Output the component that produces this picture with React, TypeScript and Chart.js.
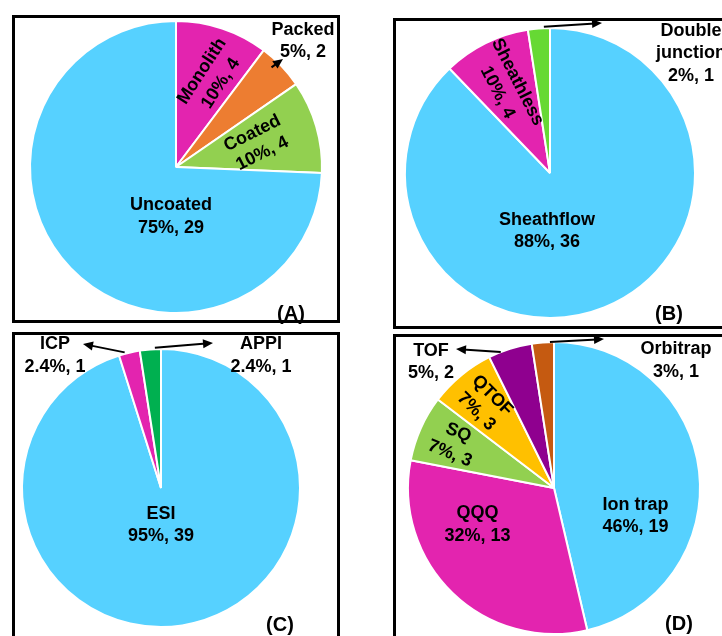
import { useEffect, useRef } from "react";
import { Chart, registerables } from "chart.js";

Chart.register(...registerables);

// (A) column types
const columnNames = ["Monolith", "Packed", "Coated", "Uncoated"];
const columnCounts = [4, 2, 4, 29];
const columnShares = ["10%", "5%", "10%", "75%"];

// (B) CE–MS interfaces
const interfaceNames = ["Sheathflow", "Sheathless", "Double junction"];
const interfaceCounts = [36, 4, 1];
const interfaceShares = ["88%", "10%", "2%"];

// (C) ionisation sources
const sourceNames = ["ESI", "ICP", "APPI"];
const sourceCounts = [39, 1, 1];
const sourceShares = ["95%", "2.4%", "2.4%"];

// (D) mass analysers
const analyzerNames = ["Ion trap", "QQQ", "SQ", "QTOF", "TOF", "Orbitrap"];
const analyzerCounts = [19, 13, 3, 3, 2, 1];
const analyzerShares = ["46%", "32%", "7%", "7%", "5%", "3%"];

const BLUE = "#56D1FF";
const MAGENTA = "#E324AF";
const ORANGE = "#ED7D31";
const LIGHT_GREEN = "#92D050";
const LIME = "#66D934";
const GREEN = "#00B050";
const AMBER = "#FFC000";
const PURPLE = "#8F008F";
const BROWN = "#C55A11";

const FONT = "bold 18px 'Liberation Sans', Arial, Helvetica, sans-serif";
const LINE_HEIGHT = 22.5;

// Label placement for each slice.
//  r / angle : radial fraction and direction (deg clockwise from 12 o'clock; slice middle if omitted)
//  rotate    : text rotation in degrees
//  out       : label centre outside the pie, px from pie centre
//  from      : leader start [radial fraction, angle]; to: arrow tip, px from pie centre
type LabelSpec = {
  r?: number;
  angle?: number;
  rotate?: number;
  out?: [number, number];
  from?: [number, number];
  to?: [number, number];
  wrap?: boolean;
};

const columnLabelSpecs: LabelSpec[] = [
  { r: 0.66, angle: 21.5, rotate: -57 },
  { out: [127, -126], from: [0.945, 43.8], to: [107, -108] },
  { r: 0.58, rotate: -26.6 },
  { r: 0.34, angle: 185.8 },
];

const interfaceLabelSpecs: LabelSpec[] = [
  { r: 0.4, angle: 183 },
  { r: 0.66, rotate: 63 },
  { out: [141, -119.5], from: [1.01, 357.6], to: [52, -150], wrap: true },
];

const sourceLabelSpecs: LabelSpec[] = [
  { r: 0.265, angle: 180 },
  { out: [-106, -132.5], from: [1.01, 345], to: [-78, -144] },
  { out: [100, -132.5], from: [1.01, 357.5], to: [52, -145] },
];

const analyzerLabelSpecs: LabelSpec[] = [
  { r: 0.59, angle: 109 },
  { r: 0.58, angle: 244.6 },
  { r: 0.75, rotate: 22 },
  { r: 0.75, rotate: 45 },
  { out: [-123, -126], from: [1.0, 338.6], to: [-98, -139] },
  { out: [122, -127.5], from: [1.0, 358.4], to: [50, -149] },
];

const toCanvasAngle = (deg: number) => (deg * Math.PI) / 180 - Math.PI / 2;

function drawLines(ctx: CanvasRenderingContext2D, lines: string[], x: number, y: number, rot: number) {
  ctx.save();
  ctx.translate(x, y);
  if (rot) ctx.rotate((rot * Math.PI) / 180);
  lines.forEach((t, i) => ctx.fillText(t, 0, (i - (lines.length - 1) / 2) * LINE_HEIGHT));
  ctx.restore();
}

function drawArrow(ctx: CanvasRenderingContext2D, x0: number, y0: number, x1: number, y1: number) {
  const a = Math.atan2(y1 - y0, x1 - x0);
  const head = 10;
  const half = 4.5;
  const c = Math.cos(a);
  const s = Math.sin(a);
  ctx.beginPath();
  ctx.moveTo(x0, y0);
  ctx.lineTo(x1 - head * 0.7 * c, y1 - head * 0.7 * s);
  ctx.stroke();
  ctx.beginPath();
  ctx.moveTo(x1, y1);
  ctx.lineTo(x1 - head * c + half * s, y1 - head * s - half * c);
  ctx.lineTo(x1 - head * c - half * s, y1 - head * s + half * c);
  ctx.closePath();
  ctx.fill();
}

function makeLabelPlugin(names: string[], counts: number[], shares: string[], specs: LabelSpec[]) {
  return {
    id: "sliceLabels",
    afterDatasetsDraw(chart: any) {
      const ctx: CanvasRenderingContext2D = chart.ctx;
      const meta = chart.getDatasetMeta(0);
      ctx.save();
      ctx.font = FONT;
      ctx.fillStyle = "#000";
      ctx.strokeStyle = "#000";
      ctx.lineWidth = 2;
      ctx.textAlign = "center";
      ctx.textBaseline = "middle";
      meta.data.forEach((arc: any, i: number) => {
        const spec = specs[i];
        if (!spec) return;
        const { x, y, startAngle, endAngle, outerRadius } = arc.getProps(
          ["x", "y", "startAngle", "endAngle", "outerRadius"],
          true
        );
        const nameLines = spec.wrap ? names[i].split(" ") : [names[i]];
        const lines = [...nameLines, `${shares[i]}, ${counts[i]}`];
        if (spec.out) {
          drawLines(ctx, lines, x + spec.out[0], y + spec.out[1], 0);
          if (spec.from && spec.to) {
            const a = toCanvasAngle(spec.from[1]);
            const R = spec.from[0] * outerRadius;
            drawArrow(ctx, x + R * Math.cos(a), y + R * Math.sin(a), x + spec.to[0], y + spec.to[1]);
          }
        } else {
          const a = spec.angle !== undefined ? toCanvasAngle(spec.angle) : (startAngle + endAngle) / 2;
          const R = (spec.r ?? 0.6) * outerRadius;
          drawLines(ctx, lines, x + R * Math.cos(a), y + R * Math.sin(a), spec.rotate ?? 0);
        }
      });
      ctx.restore();
    },
  };
}

type PanelProps = {
  box: [number, number, number, number];
  center: [number, number];
  radius: number;
  tag: string;
  tagAt: [number, number];
  names: string[];
  counts: number[];
  shares: string[];
  colors: string[];
  specs: LabelSpec[];
};

const BORDER = 3;

function PiePanel(p: PanelProps) {
  const ref = useRef<HTMLCanvasElement>(null);
  const [left, top, width, height] = p.box;
  const w = width - 2 * BORDER;
  const h = height - 2 * BORDER;
  const lx = p.center[0] - left - BORDER;
  const ly = p.center[1] - top - BORDER;

  useEffect(() => {
    const canvas = ref.current;
    if (!canvas) return;
    const padding = {
      left: Math.max(0, 2 * lx - w),
      right: Math.max(0, w - 2 * lx),
      top: Math.max(0, 2 * ly - h),
      bottom: Math.max(0, h - 2 * ly),
    };
    const chart = new Chart(canvas, {
      type: "pie",
      data: {
        labels: p.names,
        datasets: [
          {
            data: p.counts,
            backgroundColor: p.colors,
            borderColor: "#ffffff",
            borderWidth: 2,
            radius: p.radius,
          } as any,
        ],
      },
      options: {
        animation: false,
        responsive: false,
        events: [],
        layout: { padding },
        plugins: { legend: { display: false }, tooltip: { enabled: false } },
      } as any,
      plugins: [makeLabelPlugin(p.names, p.counts, p.shares, p.specs)],
    });
    return () => chart.destroy();
  }, []);

  return (
    <>
      <div
        style={{
          position: "absolute",
          left,
          top,
          width,
          height,
          boxSizing: "border-box",
          border: `${BORDER}px solid #000`,
          overflow: "hidden",
          background: "#fff",
        }}
      >
        <canvas ref={ref} width={w} height={h} style={{ position: "absolute", left: 0, top: 0, width: w, height: h }} />
      </div>
      <span
        style={{
          position: "absolute",
          left: p.tagAt[0],
          top: p.tagAt[1],
          transform: "translate(-50%, -50%)",
          font: "bold 20px 'Liberation Sans', Arial, Helvetica, sans-serif",
          color: "#000",
          lineHeight: 1,
          whiteSpace: "nowrap",
        }}
      >
        {p.tag}
      </span>
    </>
  );
}

export default function App() {
  return (
    <div
      style={{
        position: "fixed",
        left: 0,
        top: 0,
        width: 722,
        height: 636,
        overflow: "hidden",
        background: "#fff",
      }}
    >
      <PiePanel
        box={[12, 15, 328, 308]}
        center={[176, 167]}
        radius={146}
        tag="(A)"
        tagAt={[291, 313]}
        names={columnNames}
        counts={columnCounts}
        shares={columnShares}
        colors={[MAGENTA, ORANGE, LIGHT_GREEN, BLUE]}
        specs={columnLabelSpecs}
      />
      <PiePanel
        box={[393, 18, 345, 311]}
        center={[550, 173]}
        radius={145}
        tag="(B)"
        tagAt={[669, 313]}
        names={interfaceNames}
        counts={interfaceCounts}
        shares={interfaceShares}
        colors={[BLUE, MAGENTA, LIME]}
        specs={interfaceLabelSpecs}
      />
      <PiePanel
        box={[12, 332, 328, 320]}
        center={[161, 488]}
        radius={139}
        tag="(C)"
        tagAt={[280, 624]}
        names={sourceNames}
        counts={sourceCounts}
        shares={sourceShares}
        colors={[BLUE, MAGENTA, GREEN]}
        specs={sourceLabelSpecs}
      />
      <PiePanel
        box={[393, 334, 345, 320]}
        center={[554, 488]}
        radius={146}
        tag="(D)"
        tagAt={[679, 623]}
        names={analyzerNames}
        counts={analyzerCounts}
        shares={analyzerShares}
        colors={[BLUE, MAGENTA, LIGHT_GREEN, AMBER, PURPLE, BROWN]}
        specs={analyzerLabelSpecs}
      />
    </div>
  );
}
